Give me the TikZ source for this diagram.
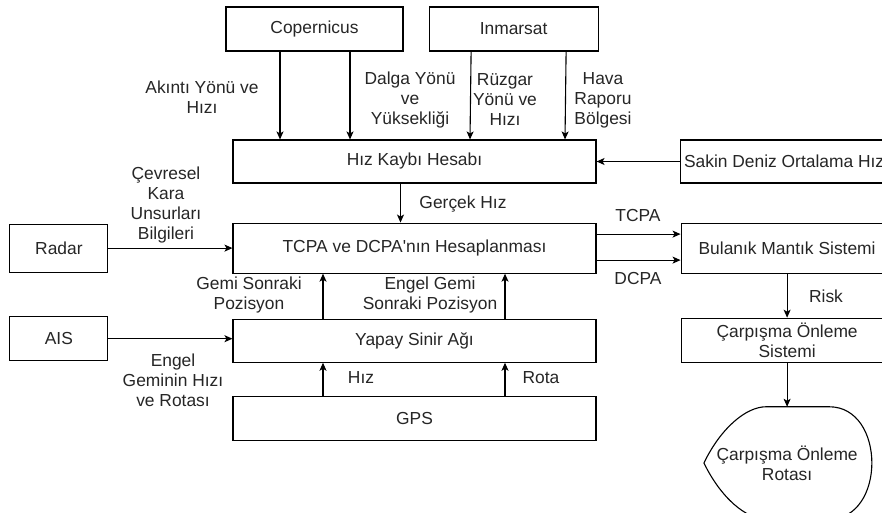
\documentclass[tikz,border=0pt]{standalone}
\usepackage{fontspec}
\setmainfont{Liberation Sans}
\usetikzlibrary{positioning}
\usetikzlibrary{arrows.meta}
\tikzset{>={Stealth[width=7pt,length=8pt,inset=2pt]}}

\begin{document}
\begin{tikzpicture}[x=1pt, y=-1pt, font=\fontsize{17.4}{20}\selectfont, text=black!85, block/.style={draw=black, line width=1.1pt, fill=white, align=center, inner sep=0pt, minimum height=44pt}, textnode/.style={draw=none, fill=none, align=center, inner sep=0pt}, line/.style={->, line width=1.1pt}]

    \fill[white] (0,0) rectangle (882,513);
    \useasboundingbox (0,0) rectangle (882,513);

    %Nodes
    \node[block, minimum width=363pt, minimum height=43pt](hizkaybi) at (414.5,161.5){Hız Kaybı Hesabı};
    \node[block, minimum width=177pt](copernicus) at (314.5,29){Copernicus};
    \node[block, minimum width=169pt](inmarsat)[right=25pt of copernicus]{Inmarsat};
    \node[block, minimum width=208pt, minimum height=43pt](sakin)[right=83pt of hizkaybi]{Sakin Deniz Ortalama Hız};
    \node[block, minimum width=363pt, minimum height=50pt](tcpa)[below=39pt of hizkaybi]{TCPA ve DCPA\textquotesingle nın Hesaplanması};
    \node[block, minimum width=98pt, minimum height=48pt](radar)[left=124pt of tcpa]{Radar};
    \node[block, minimum width=212pt, minimum height=50pt](bulanik)[right=84pt of tcpa]{Bulanık Mantık Sistemi};
    \node[block, minimum width=363pt, minimum height=43pt](yapay)[below=45pt of tcpa]{Yapay Sinir Ağı};
    \node[block, minimum width=98pt](ais)[left=124pt of yapay, yshift=2pt]{AIS};
    \node[block, minimum width=363pt](gps)[below=33pt of yapay]{GPS};
    \node[block, minimum width=212pt](carpisma)[below=44pt of bulanik]{Çarpışma Önleme\\Sistemi};
    \node[textnode, minimum width=166pt, minimum height=112pt](rota)[below=44pt of carpisma]{Çarpışma Önleme\\Rotası};

    %Labels
    \node[textnode](akinti) at (202,97){Akıntı Yönü ve\\Hızı};
    \node[textnode](dalga) at (410,100){Dalga Yönü\\ve\\Yüksekliği};
    \node[textnode](ruzgar) at (505,100){Rüzgar\\Yönü ve\\Hızı};
    \node[textnode](hava) at (603,100){Hava\\Raporu\\Bölgesi};
    \node[textnode](cevresel) at (166,205){Çevresel\\Kara\\Unsurları\\Bilgileri};
    \node[textnode](gercek) at (463,204){Gerçek Hız};
    \node[textnode](tcpalbl) at (638,216){TCPA};
    \node[textnode](dcpalbl) at (638,279){DCPA};
    \node[textnode](gemi) at (249,295){Gemi Sonraki\\Pozisyon};
    \node[textnode](engelgemi) at (430,295){Engel Gemi\\Sonraki Pozisyon};
    \node[textnode](hizlbl) at (361,378){Hız};
    \node[textnode](rotalbl) at (541,378){Rota};
    \node[textnode](engel) at (173,380){Engel\\Geminin Hızı\\ve Rotası};
    \node[textnode](risk) at (826,296){Risk};

    %Shape
    \draw[line width=1.1pt] (rota.west) .. controls +(17,-35) and +(-20,0) .. ([xshift=-21pt]rota.north) -- ([xshift=42pt]rota.north) .. controls +(57,0) and +(57,0) .. ([xshift=42pt]rota.south) -- ([xshift=-21pt]rota.south) .. controls +(-20,0) and +(17,35) .. (rota.west);

    %Lines
    \draw[line] ([xshift=-34.5pt]copernicus.south) -- ([xshift=-134.5pt]hizkaybi.north);
    \draw[line] ([xshift=35.5pt]copernicus.south) -- ([xshift=-64.5pt]hizkaybi.north);
    \draw[line] ([xshift=-42.5pt]inmarsat.south) -- ([xshift=55.5pt]hizkaybi.north);
    \draw[line] ([xshift=52.5pt]inmarsat.south) -- ([xshift=150.5pt]hizkaybi.north);
    \draw[line] (sakin.west) -- (hizkaybi.east);
    \draw[line] ([xshift=-14pt]hizkaybi.south) -- ([xshift=-14pt]tcpa.north);
    \draw[line] (radar.east) -- (radar.east -| tcpa.west);
    \draw[line] ([yshift=14pt]tcpa.east) -- ([yshift=14pt]bulanik.west);
    \draw[line] ([yshift=-12pt]tcpa.east) -- ([yshift=-12pt]bulanik.west);
    \draw[line] ([xshift=-91.5pt]yapay.north) -- ([xshift=-91.5pt]tcpa.south);
    \draw[line] ([xshift=90.5pt]yapay.north) -- ([xshift=90.5pt]tcpa.south);
    \draw[line] ([xshift=-91.5pt]gps.north) -- ([xshift=-91.5pt]yapay.south);
    \draw[line] ([xshift=90.5pt]gps.north) -- ([xshift=90.5pt]yapay.south);
    \draw[line] (ais.east) -- (ais.east -| yapay.west);
    \draw[line] (bulanik.south) -- (carpisma.north);
    \draw[line] (carpisma.south) -- (rota.north);

\end{tikzpicture}
\end{document}
